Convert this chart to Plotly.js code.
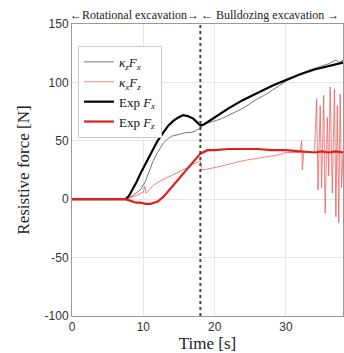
<!DOCTYPE html>
<html><head><meta charset="utf-8">
<script src="https://cdn.plot.ly/plotly-3.0.1.min.js"></script>
<style>html,body{margin:0;padding:0;background:#fff}</style>
</head><body><div id="chart" style="width:344px;height:353px"></div>
<script>
// Thin gray: kappa_z F_x (model)
const tKzFx = [0, 7.5, 8, 8.5, 9, 9.6, 10.2, 10.5, 11, 11.4, 12, 12.8, 13.5, 14, 14.7, 15.3, 16, 16.6, 17.2, 17.7, 18, 18.3, 19, 20, 21, 22, 23, 24, 25, 26, 27, 28, 29, 30, 31, 32, 33, 34, 35, 36, 37, 37.5, 38];
const vKzFx = [0, 0, 1, 3, 5, 8, 14, 19, 26, 33, 40, 48, 52, 54, 55, 56, 57, 57, 58, 60, 60, 64, 65, 67, 69, 72, 75, 78, 82, 86, 89, 93, 97, 101, 104, 107, 110, 112, 114, 116, 119, 117, 119];
// Thin pink: kappa_x F_z (model)
const tKxFz = [0, 7.5, 8, 8.5, 9, 9.6, 10, 10.2, 10.4, 11, 11.4, 12.5, 13.8, 15, 16.2, 17, 17.7, 18, 18.2, 19, 19.4, 20, 22, 24, 26, 28, 29, 30, 31, 32, 32.2, 32.3, 32.5, 33, 34, 34.3, 34.5, 34.8, 35, 35.3, 35.5, 35.8, 36, 36.2, 36.5, 36.8, 37, 37.2, 37.4, 37.6, 37.8, 38];
const vKxFz = [0, 0, 1, 2, 3, 5, 6, 11, 5, 9, 12, 16, 20, 23, 27, 30, 32, 33, 25, 26, 26, 27, 30, 33, 35, 37, 38, 40, 40, 40, 50, 25, 40, 41, 40, 86, 8, 80, 10, 89, -12, 70, 20, 96, 5, 94, -15, 80, -20, 90, 10, 40];
// Thick black: experimental F_x
const tExpFx = [0, 7.5, 8, 9, 9.6, 10.5, 11.4, 12, 12.8, 13.5, 14.2, 14.9, 15.6, 16.3, 17, 17.5, 18, 18.5, 19, 20, 22, 24, 26, 28, 30, 32, 34, 36, 38];
const vExpFx = [0, 0, 3, 14, 22, 33, 44, 50, 57, 63, 67, 70, 72, 71, 69, 66, 63, 64, 66, 70, 78, 85, 91, 97, 102, 107, 111, 114, 117];
// Thick red: experimental F_z
const tExpFz = [0, 7.5, 8, 8.5, 9, 9.6, 10.3, 11, 12, 12.8, 13.5, 14.2, 14.8, 15.5, 16.2, 17, 17.5, 18, 19, 20, 22, 24, 26, 28, 30, 32, 34, 35, 36, 37, 38];
const vExpFz = [0, 0, -1, -2, -3, -3, -4, -4, -2, 2, 7, 12, 16, 21, 26, 32, 35, 39, 42, 42, 43, 43, 43, 42, 42, 41, 40, 41, 40, 41, 40];

const seriesNames = ['<i>κ<sub>z</sub>F<sub>x</sub></i>', '<i>κ<sub>x</sub>F<sub>z</sub></i>', 'Exp <i>F<sub>x</sub></i>', 'Exp <i>F<sub>z</sub></i>'];
const phaseBoundary = [18];
const phaseLabels = ['←Rotational excavation→', '← Bulldozing excavation →'];
const xTicks = [0, 10, 20, 30];
const yTicks = [-100, -50, 0, 50, 100, 150];

const serif = 'Liberation Serif, Times New Roman, serif';
const sans = 'Liberation Sans, Arial, sans-serif';
const traces = [
  {x: tKzFx, y: vKzFx, name: seriesNames[0], mode: 'lines', line: {color: '#555555', width: 0.8}},
  {x: tKxFz, y: vKxFz, name: seriesNames[1], mode: 'lines', line: {color: 'rgba(240,90,90,0.85)', width: 0.9}},
  {x: tExpFx, y: vExpFx, name: seriesNames[2], mode: 'lines', line: {color: '#000000', width: 2.2}},
  {x: tExpFz, y: vExpFz, name: seriesNames[3], mode: 'lines', line: {color: '#e0201b', width: 2.2}}
];
const layout = {
  width: 344, height: 353,
  margin: {l: 72, r: 1, t: 24, b: 37},
  paper_bgcolor: '#fff', plot_bgcolor: '#fff',
  showlegend: true,
  legend: {x: 0.022, y: 0.925, xanchor: 'left', yanchor: 'top', bgcolor: '#fff', bordercolor: '#cccccc', borderwidth: 1,
           font: {family: serif, size: 13, color: '#111'}, itemwidth: 30, tracegroupgap: 0},
  xaxis: {range: [0, 38], tickvals: xTicks, ticktext: xTicks.map(String), showgrid: true, gridcolor: '#e6e6e6',
          zeroline: false, showline: true, linecolor: '#999', mirror: true, ticks: '',
          tickfont: {family: sans, size: 12, color: '#333'},
          title: {text: 'Time [s]', font: {family: serif, size: 17, color: '#222'}, standoff: 2}},
  yaxis: {range: [-100, 150], tickvals: yTicks, ticktext: yTicks.map(String), showgrid: true, gridcolor: '#e6e6e6',
          zeroline: false, showline: true, linecolor: '#999', mirror: true, ticks: '',
          tickfont: {family: sans, size: 12, color: '#333'},
          title: {text: 'Resistive force [N]', font: {family: serif, size: 17, color: '#222'}, standoff: 10}},
  shapes: phaseBoundary.map(b => ({type: 'line', xref: 'x', yref: 'paper', x0: b, x1: b, y0: 0, y1: 1,
          line: {color: '#444', width: 2, dash: 'dot'}})),
  annotations: [
    {text: phaseLabels[0], xref: 'x', yref: 'paper', x: phaseBoundary[0], y: 1, xanchor: 'right', yanchor: 'bottom',
     showarrow: false, font: {family: serif, size: 12, color: '#222'}, yshift: 0, xshift: 1},
    {text: phaseLabels[1], xref: 'x', yref: 'paper', x: phaseBoundary[0], y: 1, xanchor: 'left', yanchor: 'bottom',
     showarrow: false, font: {family: serif, size: 12, color: '#222'}, yshift: 0, xshift: -1}
  ]
};
Plotly.newPlot('chart', traces, layout, {staticPlot: true, displayModeBar: false});
</script></body></html>
